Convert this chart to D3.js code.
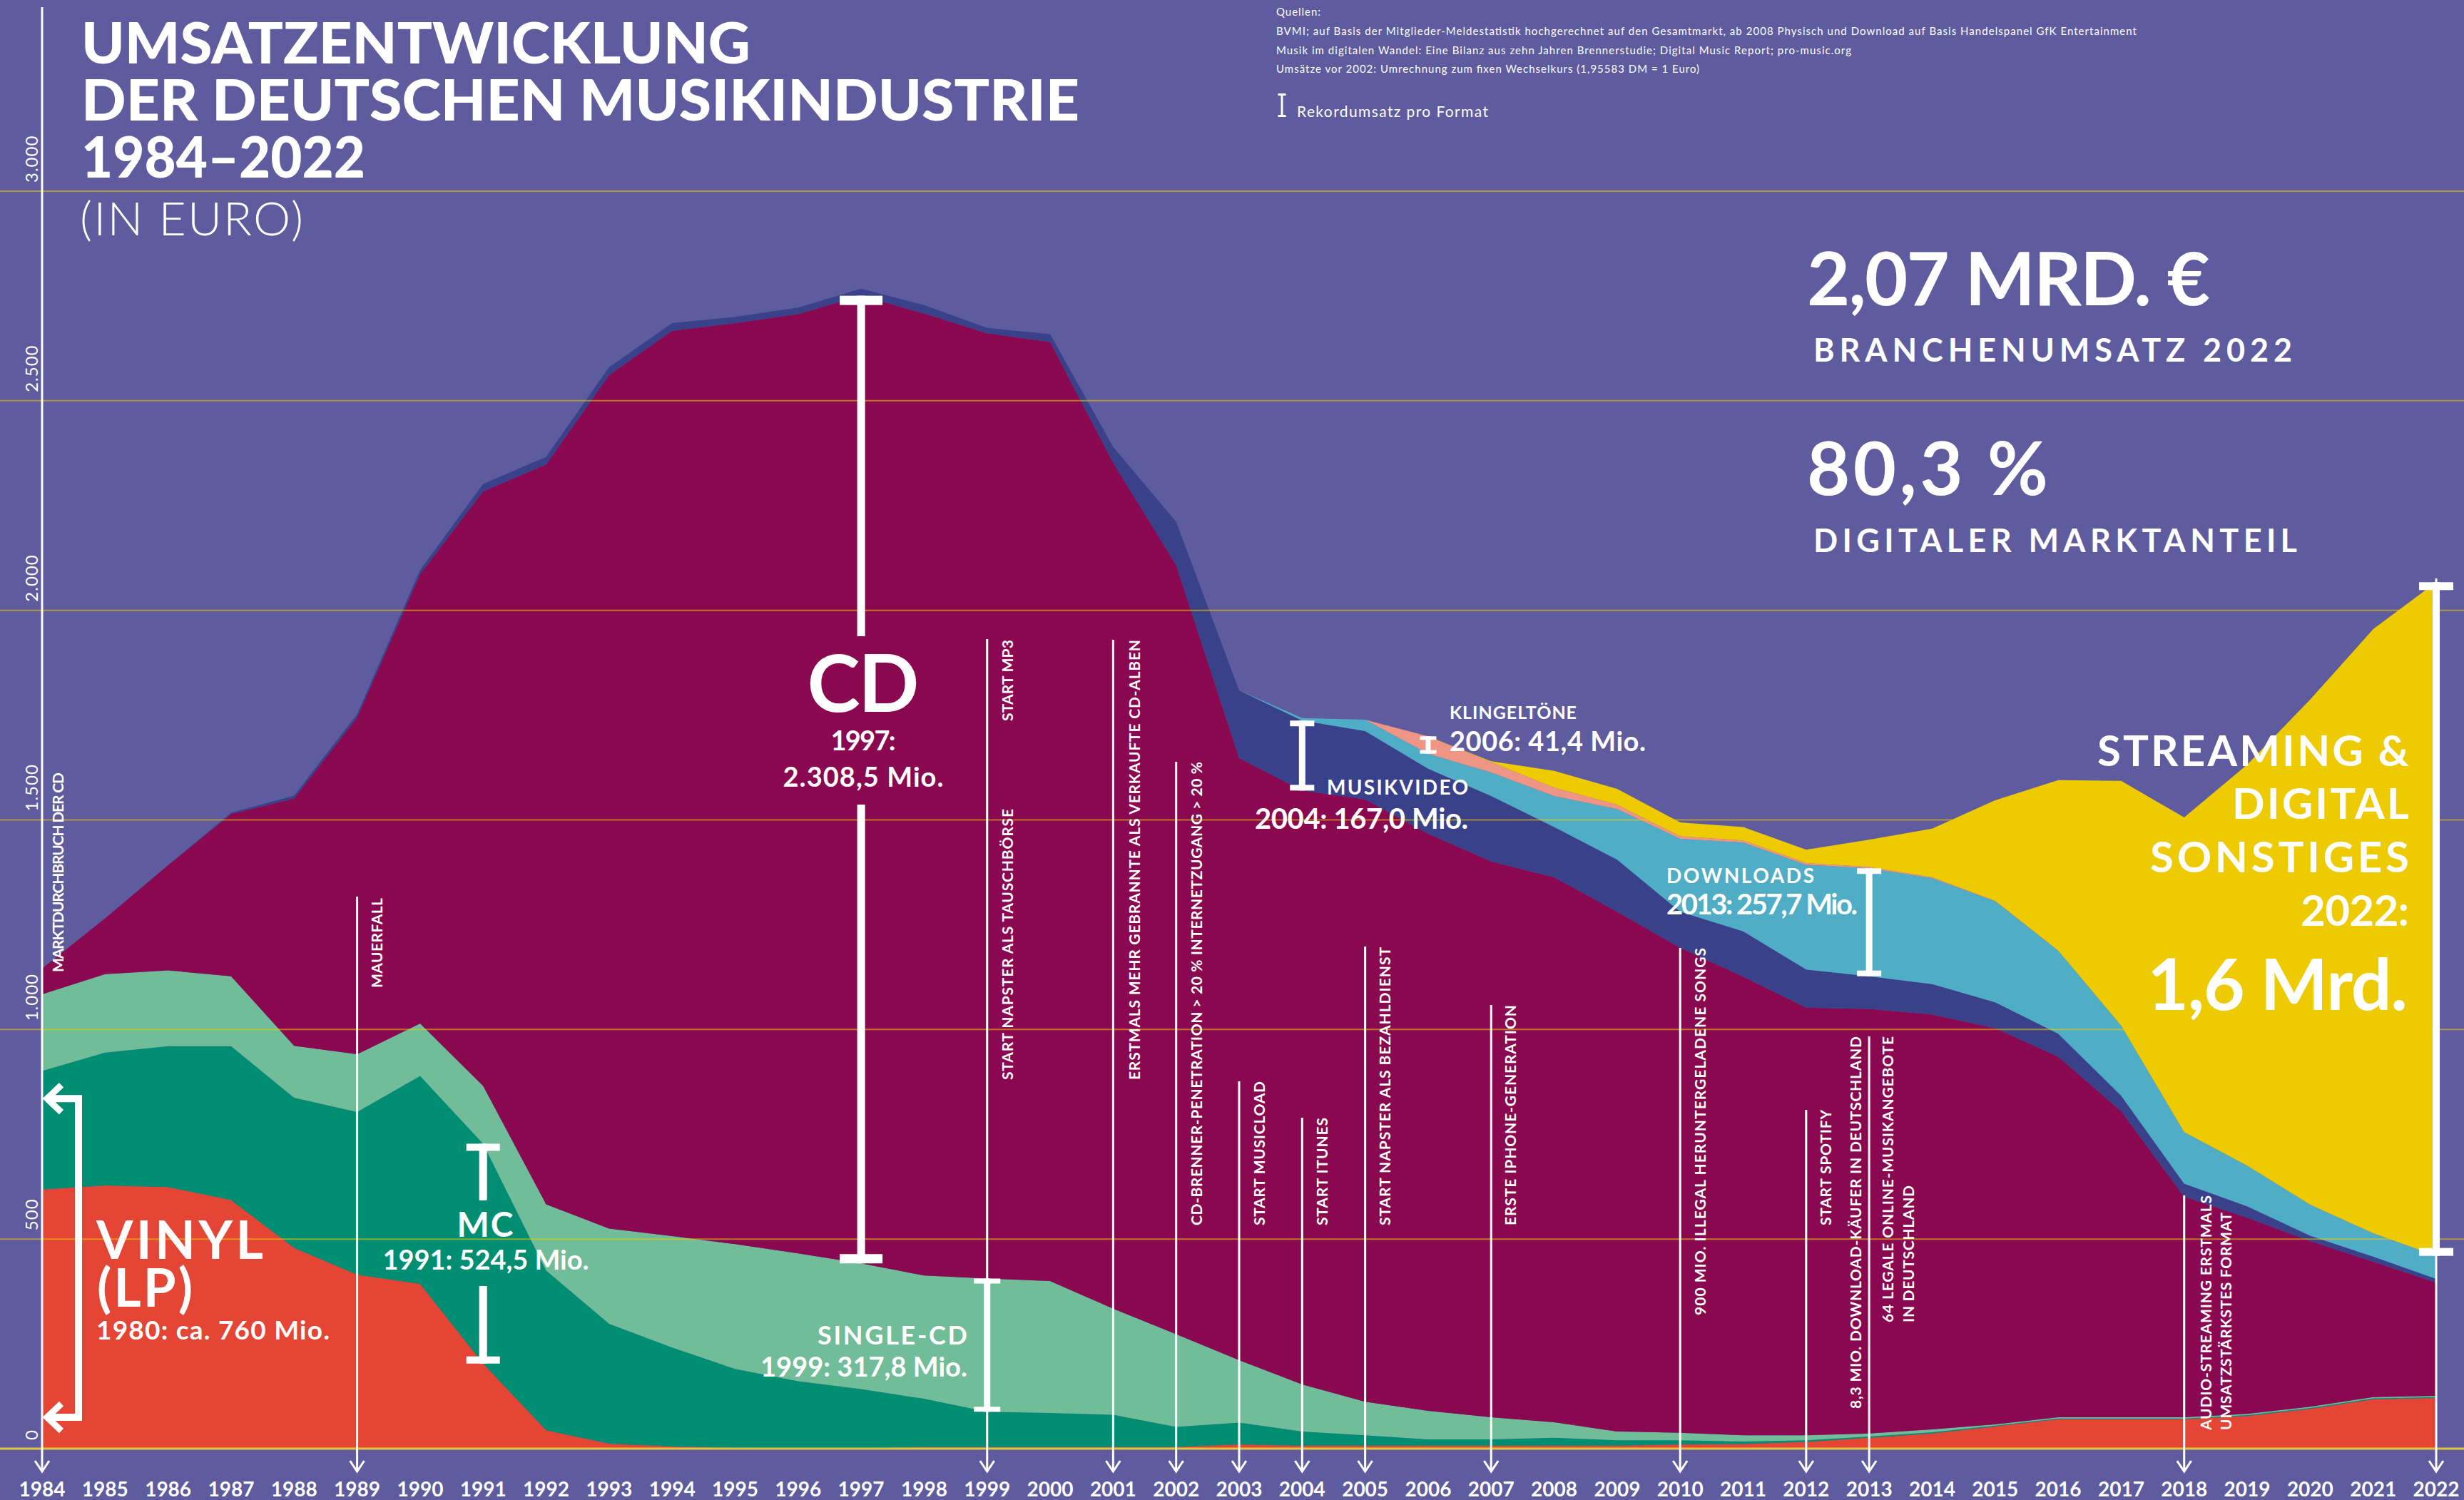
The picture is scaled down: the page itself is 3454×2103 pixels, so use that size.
<!DOCTYPE html>
<html><head><meta charset="utf-8">
<script src="https://cdn.jsdelivr.net/npm/d3@7"></script>
<style>
html,body{margin:0;padding:0;background:#5e5b9e;}
svg{display:block;}
text{font-family:Lato,"Open Sans","DejaVu Sans",sans-serif;fill:#fff;}
</style></head><body>
<svg id="chart" width="3454" height="2103"></svg>
<script>
// ---------- DATA (Mio. Euro) ----------
const years = [1984,1985,1986,1987,1988,1989,1990,1991,1992,1993,1994,1995,1996,1997,1998,1999,2000,2001,2002,2003,2004,2005,2006,2007,2008,2009,2010,2011,2012,2013,2014,2015,2016,2017,2018,2019,2020,2021,2022];
const vinyl     = [618,628,624,593,479,415,393,203,44,12,5,2,1,1,4,4,4,4,4,10,7,7,7,7,7,7,10,11,16,26,36,53,70,70,70,78,95,118,121];
const mc        = [283,317,336,367,358,388,496,524.5,381,286,236,188,160,141,115,84,81,77,48,52,34,25,15,15,19,13,10,6,4,3,3,2,2,2,2,2,2,2,2];
const singleCd  = [183,187,181,167,124,138,125,138,158,227,266,298,305,300,294,317.8,315,253,221,149,112,80,68,53,37,21,18,15,12,7,7,3,3,3,3,3,3,3,3];
const cd        = [61,133,251,387,590,803,1072,1418,1765,2036,2160,2197,2241,2308.5,2295,2255,2240,2018,1835,1436,1417,1437,1377,1326,1300,1240,1157,1094,1020,1013,990,945,860,730,526,468,395,323,270];
const video     = [0,0,0,3,7,8,10,18,18,19,18,15,15,17,20,13,19,38,103,162,167,163,155,156,120,124,86,108,91,78,72,62,55,37,31,27,13,12,9];
const downloads = [0,0,0,0,0,0,0,0,0,0,0,0,0,0,0,0,0,0,0,0,6,27,36,56,74,121,174,212,250,257.7,253,241,198,167,123,97,74,56,55];
const ringtones = [0,0,0,0,0,0,0,0,0,0,0,0,0,0,0,0,0,0,0,0,0,0,41.4,25,20,10,6,5,4,3,2,1,0,0,0,0,0,0,0];
const streaming = [0,0,0,0,0,0,0,0,0,0,0,0,0,0,0,0,0,0,0,0,0,0,0,2,40,38,33,32,32,65,116,240,407,584,751,957,1205,1441,1607];

const seriesKeys = ["vinyl","mc","single","cd","video","download","ringtone","streaming"];
const seriesValues = {vinyl:vinyl, mc:mc, single:singleCd, cd:cd, video:video, download:downloads, ringtone:ringtones, streaming:streaming};
const yTicks = [0,500,1000,1500,2000,2500,3000];
const vinylRecord = 760;   // 1980: ca. 760 Mio.
const vinylBracketBase = 75;

const records = [
  {key:"cd", year:1997}, {key:"mc", year:1991}, {key:"single", year:1999},
  {key:"video", year:2004}, {key:"ringtone", year:2006}, {key:"download", year:2013},
  {key:"streaming", year:2022}
];

const eventYears = [1984,1989,1999,2001,2002,2003,2004,2005,2007,2010,2012,2013,2018,2022];
const eventLabels = [
  ["MARKTDURCHBRUCH DER CD"],
  ["MAUERFALL"],
  ["START MP3","START NAPSTER ALS TAUSCHBÖRSE"],
  ["ERSTMALS MEHR GEBRANNTE ALS VERKAUFTE CD-ALBEN"],
  ["CD-BRENNER-PENETRATION > 20 % INTERNETZUGANG > 20 %"],
  ["START MUSICLOAD"],
  ["START ITUNES"],
  ["START NAPSTER ALS BEZAHLDIENST"],
  ["ERSTE IPHONE-GENERATION"],
  ["900 MIO. ILLEGAL HERUNTERGELADENE SONGS"],
  ["START SPOTIFY"],
  ["8,3 MIO. DOWNLOAD-KÄUFER IN DEUTSCHLAND","64 LEGALE ONLINE-MUSIKANGEBOTE","IN DEUTSCHLAND"],
  ["AUDIO-STREAMING ERSTMALS","UMSATZSTÄRKSTES FORMAT"],
  []
];

// ---------- LAYOUT / STYLE ----------
const W = 3454, H = 2103;
const colors = {vinyl:"#e44534", mc:"#008e73", single:"#71bd9a", cd:"#8a0850", video:"#39418a", download:"#4fadc5", ringtone:"#ef9585", streaming:"#edcb00"};
const eventLayout = [
  {top:10,   labels:[{dx:30, y0:1363, len:280}]},
  {top:1257, labels:[{dx:35, y0:1385, len:126}]},
  {top:896,  labels:[{dx:36, y0:1011, len:114},{dx:36, y0:1514, len:380}]},
  {top:897,  labels:[{dx:38, y0:1514, len:617}]},
  {top:1068, labels:[{dx:36, y0:1718, len:650}]},
  {top:1516, labels:[{dx:36, y0:1718, len:202}]},
  {top:1567, labels:[{dx:36, y0:1718, len:151}]},
  {top:1327, labels:[{dx:35, y0:1718, len:390}]},
  {top:1409, labels:[{dx:35, y0:1718, len:309}]},
  {top:1329, labels:[{dx:36, y0:1844, len:515}]},
  {top:1556, labels:[{dx:35, y0:1718, len:162}]},
  {top:1453, labels:[{dx:-11, y0:1975, len:522},{dx:34, y0:1854, len:401},{dx:63, y0:1854, len:192}]},
  {top:1676, labels:[{dx:38, y0:2005, len:329},{dx:66, y0:2005, len:305}]},
  {top:811,  labels:[]}
];
const recordStyle = {
  cd:{bw:11, cw:60, ch:13, gap:[892,1128]},
  mc:{bw:11, cw:47, ch:10, gap:[1683,1803]},
  single:{bw:9, cw:37, ch:7},
  video:{bw:9, cw:34, ch:8},
  ringtone:{bw:7, cw:23, ch:5},
  download:{bw:9, cw:34, ch:8},
  streaming:{bw:10, cw:48, ch:11}
};
const texts = [
  {t:"UMSATZENTWICKLUNG", x:114, y:89, fs:80, fw:900, len:938, adj:"spacingAndGlyphs"},
  {t:"DER DEUTSCHEN MUSIKINDUSTRIE", x:114, y:169, fs:80, fw:900, len:1399, adj:"spacingAndGlyphs"},
  {t:"1984–2022", x:114, y:249, fs:80, fw:900, len:398, adj:"spacingAndGlyphs"},
  {t:"(IN EURO)", x:112, y:330, fs:66, fw:300, len:313},
  {t:"Quellen:", x:1789, y:22, fs:15, fw:400, len:62},
  {t:"BVMI; auf Basis der Mitglieder-Meldestatistik hochgerechnet auf den Gesamtmarkt, ab 2008 Physisch und Download auf Basis Handelspanel GfK Entertainment", x:1789, y:49, fs:15, fw:400, len:1206},
  {t:"Musik im digitalen Wandel: Eine Bilanz aus zehn Jahren Brennerstudie; Digital Music Report; pro-music.org", x:1789, y:76, fs:15, fw:400, len:806},
  {t:"Umsätze vor 2002: Umrechnung zum fixen Wechselkurs (1,95583 DM = 1 Euro)", x:1789, y:102, fs:15, fw:400, len:593},
  {t:"Rekordumsatz pro Format", x:1818, y:164, fs:21, fw:400, len:268},
  {t:"2,07 MRD. €", x:2533, y:428, fs:104, fw:700, len:565},
  {t:"BRANCHENUMSATZ 2022", x:2542, y:507, fs:45, fw:700, len:671},
  {t:"80,3 %", x:2533, y:694, fs:104, fw:700, len:338},
  {t:"DIGITALER MARKTANTEIL", x:2542, y:774, fs:45, fw:700, len:678},
  {t:"STREAMING &", x:3377, y:1074, fs:60, fw:700, len:437, a:"end"},
  {t:"DIGITAL", x:3377, y:1148, fs:60, fw:700, len:248, a:"end"},
  {t:"SONSTIGES", x:3377, y:1223, fs:60, fw:700, len:363, a:"end"},
  {t:"2022:", x:3377, y:1298, fs:60, fw:700, len:152, a:"end"},
  {t:"1,6 Mrd.", x:3375, y:1416, fs:100, fw:700, len:365, a:"end"},
  {t:"CD", x:1210, y:998, fs:112, fw:700, len:157, a:"middle"},
  {t:"1997:", x:1210, y:1052, fs:38, fw:700, len:91, a:"middle"},
  {t:"2.308,5 Mio.", x:1210, y:1103, fs:38, fw:700, len:225, a:"middle"},
  {t:"MC", x:680, y:1734, fs:48, fw:700, len:79, a:"middle"},
  {t:"1991: 524,5 Mio.", x:681, y:1780, fs:38, fw:700, len:289, a:"middle"},
  {t:"VINYL", x:135, y:1765, fs:74, fw:700, len:234},
  {t:"(LP)", x:136, y:1832, fs:74, fw:700, len:134},
  {t:"1980: ca. 760 Mio.", x:135, y:1878, fs:37, fw:700, len:327},
  {t:"SINGLE-CD", x:1356, y:1885, fs:36, fw:700, len:210, a:"end"},
  {t:"1999: 317,8 Mio.", x:1356, y:1930, fs:38, fw:700, len:290, a:"end"},
  {t:"MUSIKVIDEO", x:2058, y:1114, fs:28, fw:700, len:198, a:"end"},
  {t:"2004: 167,0 Mio.", x:2058, y:1162, fs:40, fw:700, len:299, a:"end"},
  {t:"KLINGELTÖNE", x:2032, y:1008, fs:25, fw:700, len:178},
  {t:"2006: 41,4 Mio.", x:2032, y:1053, fs:38, fw:700, len:275},
  {t:"DOWNLOADS", x:2336, y:1238, fs:28, fw:700, len:207},
  {t:"2013: 257,7 Mio.", x:2336, y:1282, fs:40, fw:700, len:268}
];

// ---------- CHART ----------
const svg = d3.select("#chart");
svg.append("rect").attr("width",W).attr("height",H).attr("fill","#5e5b9e");

const x = d3.scaleLinear().domain([1984,2022]).range([59,3415]);
const y = d3.scaleLinear().domain([0,3000]).range([2031,268]);

const table = years.map((yr,i)=>{const o={year:yr}; seriesKeys.forEach(k=>o[k]=seriesValues[k][i]); return o;});
const stacked = d3.stack().keys(seriesKeys)(table);
const area = d3.area().x(d=>x(d.data.year)).y0(d=>y(d[0])).y1(d=>y(d[1]));

svg.append("g").selectAll("path").data(stacked).join("path")
  .attr("fill",d=>colors[d.key]).attr("d",area);

// gridlines
svg.append("g").selectAll("line").data(yTicks).join("line")
  .attr("x1",0).attr("x2",W).attr("y1",d=>y(d)).attr("y2",d=>y(d))
  .attr("stroke",d=>d===0?"#e3c53a":"rgba(238,203,0,0.55)").attr("stroke-width",d=>d===0?3:2);

// y tick labels
const de = d3.formatLocale({decimal:",", thousands:".", grouping:[3], currency:["","€"]});
const fmt = de.format(",");
svg.append("g").selectAll("text").data(yTicks).join("text")
  .attr("transform",d=>`translate(53,${y(d)-12}) rotate(-90)`)
  .attr("font-size",24).attr("font-weight",400).attr("letter-spacing",1)
  .text(d=>fmt(d));

// x axis year labels
svg.append("g").selectAll("text").data(years).join("text")
  .attr("x",d=>x(d)).attr("y",2098).attr("text-anchor","middle")
  .attr("font-size",28).attr("font-weight",700)
  .text(d=>d);

// event lines
const evG = svg.append("g");
eventYears.forEach((yr,i)=>{
  const ex = x(yr), lay = eventLayout[i];
  evG.append("line").attr("x1",ex).attr("x2",ex).attr("y1",lay.top).attr("y2",2063)
    .attr("stroke","#fff").attr("stroke-width",3);
  evG.append("path").attr("d",`M${ex-10},2048 L${ex},2063 L${ex+10},2048`)
    .attr("stroke","#fff").attr("stroke-width",3).attr("fill","none");
  eventLabels[i].forEach((t,j)=>{
    const L = lay.labels[j];
    evG.append("text")
      .attr("transform",`translate(${ex+L.dx},${L.y0}) rotate(-90)`)
      .attr("font-size",21).attr("font-weight",700)
      .attr("textLength",L.len).attr("lengthAdjust","spacing")
      .text(t);
  });
});

// record I-beams
const ibG = svg.append("g").attr("fill","#fff");
function ibeam(cx, yTop, yBot, s){
  const segs = s.gap ? [[yTop,s.gap[0]],[s.gap[1],yBot]] : [[yTop,yBot]];
  segs.forEach(([a,b])=>ibG.append("rect").attr("x",cx-s.bw/2).attr("y",a).attr("width",s.bw).attr("height",b-a));
  ibG.append("rect").attr("x",cx-s.cw/2).attr("y",yTop).attr("width",s.cw).attr("height",s.ch);
  ibG.append("rect").attr("x",cx-s.cw/2).attr("y",yBot-s.ch).attr("width",s.cw).attr("height",s.ch);
}
records.forEach(r=>{
  const ser = stacked.find(s=>s.key===r.key);
  const pt = ser[years.indexOf(r.year)];
  ibeam(x(r.year), y(pt[1]), y(pt[0]), recordStyle[r.key]);
});

// vinyl bracket (record 1980 outside the time range)
const bTop = y(vinylBracketBase + vinylRecord), bBot = y(vinylBracketBase);
const bx = 110, tipX = 64;
svg.append("path").attr("d",`M${tipX},${bTop} H${bx} V${bBot} H${tipX}`)
  .attr("stroke","#fff").attr("stroke-width",10).attr("fill","none");
[bTop,bBot].forEach(v=>{
  svg.append("path").attr("d",`M${tipX+22},${v-19} L${tipX+2},${v} L${tipX+22},${v+19}`)
    .attr("stroke","#fff").attr("stroke-width",9).attr("fill","none");
});

// legend I-beam
ibeam(1797, 131, 164, {bw:3, cw:11, ch:3});

// texts
svg.append("g").selectAll("text").data(texts).join("text")
  .attr("x",d=>d.x).attr("y",d=>d.y)
  .attr("font-size",d=>d.fs).attr("font-weight",d=>d.fw)
  .attr("text-anchor",d=>d.a||"start")
  .attr("textLength",d=>d.len).attr("lengthAdjust",d=>d.adj||"spacing")
  .text(d=>d.t);
</script>
</body></html>
